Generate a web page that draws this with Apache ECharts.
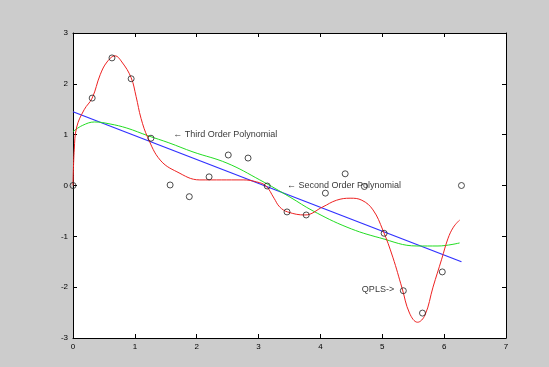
<!DOCTYPE html>
<html>
<head>
<meta charset="utf-8">
<script src="https://cdn.jsdelivr.net/npm/echarts@6/dist/echarts.min.js"></script>
<style>
  html, body { margin: 0; padding: 0; background: #cccccc; }
  #chart { width: 549px; height: 367px; }
</style>
</head>
<body>
<div id="chart"></div>
<script>
// Sample points
const sampleX = [0, 0.31, 0.63, 0.94, 1.26, 1.57, 1.88, 2.20, 2.51, 2.83, 3.14,
                 3.46, 3.77, 4.08, 4.40, 4.71, 5.03, 5.34, 5.65, 5.97, 6.28];
const sampleY = [0, 1.72, 2.51, 2.10, 0.93, 0.01, -0.22, 0.17, 0.60, 0.54, -0.01,
                 -0.52, -0.58, -0.15, 0.23, -0.02, -0.94, -2.07, -2.51, -1.70, 0];

// Second order fit (nearly straight)
const secondX = [0, 6.28];
const secondY = [1.45, -1.50];

// Third order fit
const thirdX = [0, 0.15, 0.35, 0.60, 0.87, 1.21, 1.55, 1.94, 2.49, 3.02, 3.51, 3.88, 4.43, 4.96, 5.56, 5.90, 6.25];
const thirdY = [1.06, 1.18, 1.25, 1.21, 1.13, 0.98, 0.84, 0.66, 0.44, 0.11, -0.23, -0.50, -0.82, -1.03, -1.19, -1.19, -1.13];

// QPLS curve
const qplsX = [0, 0.02, 0.06, 0.18, 0.31, 0.44, 0.55, 0.68, 0.79, 0.94, 1.02, 1.10, 1.21, 1.41, 1.68,
               2.05, 2.75, 2.97, 3.12, 3.25, 3.34, 3.47, 3.75, 4.04, 4.26, 4.48, 4.67, 4.85, 5.01,
               5.17, 5.32, 5.44, 5.57, 5.69, 5.82, 5.96, 6.06, 6.15, 6.25];
const qplsY = [0, 0.70, 1.15, 1.49, 1.72, 2.18, 2.43, 2.55, 2.43, 2.12, 1.75, 1.32, 0.94, 0.50, 0.27,
               0.11, 0.11, 0.07, -0.01, -0.25, -0.42, -0.52, -0.58, -0.42, -0.29, -0.25, -0.29, -0.48, -0.88,
               -1.41, -2.02, -2.51, -2.69, -2.55, -2.00, -1.45, -1.05, -0.82, -0.68];

// Text annotations (data coordinates)
const noteText = ['\u2190 Third Order Polynomial', '\u2190 Second Order Polynomial', 'QPLS->'];
const noteX = [1.62, 3.46, 4.67];
const noteY = [1.01, 0.0, -2.04];

const xTicks = [0, 1, 2, 3, 4, 5, 6, 7];
const yTicks = [-3, -2, -1, 0, 1, 2, 3];

const zip = (xs, ys) => xs.map((x, i) => [x, ys[i]]);

const font = 'Liberation Sans, Arial, sans-serif';
const axisCommon = {
  type: 'value',
  axisLine: { show: true, onZero: false, lineStyle: { color: '#000', width: 1 } },
  axisTick: { show: true, inside: true, length: 4, lineStyle: { color: '#000' } },
  splitLine: { show: false }
};

const chart = echarts.init(document.getElementById('chart'), null, { renderer: 'canvas' });
chart.setOption({
  backgroundColor: '#cccccc',
  animation: false,
  grid: {
    left: 73, right: 43, top: 33, bottom: 29,
    show: true, backgroundColor: '#ffffff', borderColor: '#000', borderWidth: 0
  },
  xAxis: [
    Object.assign({}, axisCommon, {
      min: xTicks[0], max: xTicks[xTicks.length - 1], interval: 1, position: 'bottom',
      axisLabel: { show: true, color: '#000', fontSize: 8, fontFamily: font, margin: 5 }
    }),
    Object.assign({}, axisCommon, {
      min: xTicks[0], max: xTicks[xTicks.length - 1], interval: 1, position: 'top',
      axisLabel: { show: false }
    })
  ],
  yAxis: [
    Object.assign({}, axisCommon, {
      min: yTicks[0], max: yTicks[yTicks.length - 1], interval: 1, position: 'left',
      axisLabel: { show: true, color: '#000', fontSize: 8, fontFamily: font, margin: 5 }
    }),
    Object.assign({}, axisCommon, {
      min: yTicks[0], max: yTicks[yTicks.length - 1], interval: 1, position: 'right',
      axisLabel: { show: false }
    })
  ],
  series: [
    {
      name: 'Second Order Polynomial', type: 'line', data: zip(secondX, secondY),
      showSymbol: false, lineStyle: { color: '#3030ff', width: 1.2 }, z: 2
    },
    {
      name: 'Third Order Polynomial', type: 'line', data: zip(thirdX, thirdY),
      smooth: 0.4, showSymbol: false,
      lineStyle: { color: '#22dd22', width: 1 }, z: 2
    },
    {
      name: 'QPLS', type: 'line', data: zip(qplsX, qplsY),
      smooth: 0.4, showSymbol: false,
      lineStyle: { color: '#ee2222', width: 1 }, z: 3
    },
    {
      name: 'samples', type: 'scatter', data: zip(sampleX, sampleY),
      symbol: 'circle', symbolSize: 6,
      itemStyle: { color: 'rgba(0,0,0,0)', borderColor: '#222', borderWidth: 1 }, z: 4
    },
    {
      name: 'notes', type: 'scatter',
      data: noteText.map((t, i) => ({ value: [noteX[i], noteY[i]], name: t })),
      symbolSize: 0, silent: true, z: 5,
      label: {
        show: true, position: 'right', distance: 0,
        formatter: p => p.name, color: '#000', fontSize: 9, fontFamily: font
      }
    }
  ]
});
</script>
</body>
</html>
